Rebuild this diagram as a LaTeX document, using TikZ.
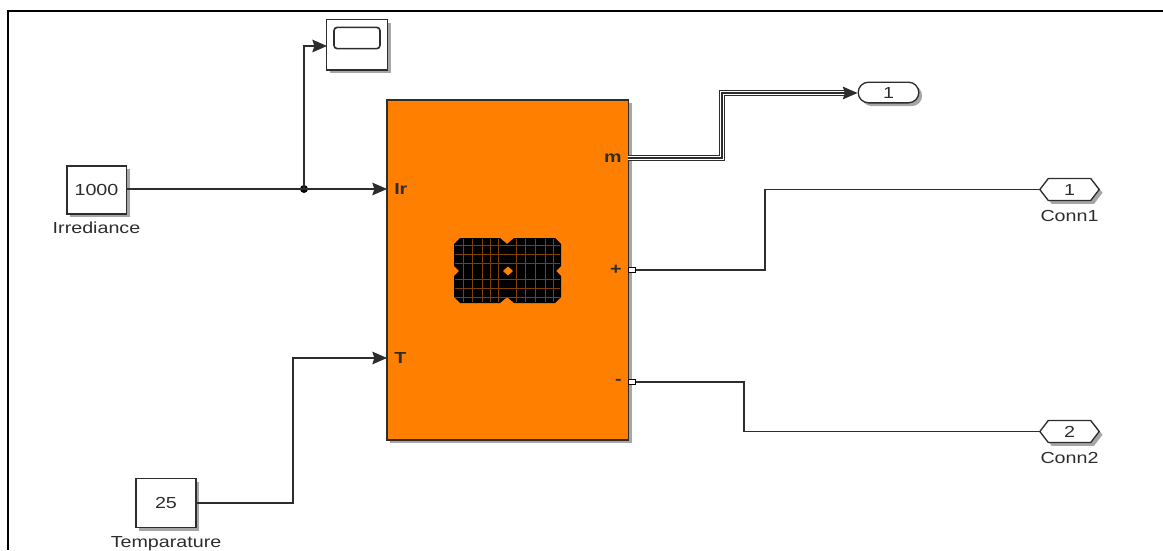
\documentclass[tikz,border=0pt]{standalone}
\usepackage{xcolor}
\usepackage{fontspec}
\setmainfont[FakeStretch=1.23]{Liberation Sans}
\usetikzlibrary{arrows.meta, positioning, shadows, shapes.symbols, shapes.misc}
\definecolor{cblock}{RGB}{255,128,0}
\definecolor{cink}{RGB}{45,45,45}
\begin{document}
\begin{tikzpicture}[
  x=0.75pt, y=-0.75pt,
  font=\fontsize{12pt}{14pt}\selectfont,
  text=cink,
  blockshadow/.style={drop shadow={shadow xshift=2.5pt, shadow yshift=-2.5pt,
    fill=black, opacity=0.35}},
  box/.style={draw=cink, line width=1pt, fill=white, blockshadow, inner sep=0pt},
  portbox/.style={box, signal, signal to=east and west, signal pointer angle=105,
    minimum width=44.5pt, minimum height=16.5pt},
  termbox/.style={draw=black, fill=white, line width=1.2pt, minimum width=5pt,
    minimum height=4pt, inner sep=0pt},
  lab/.style={inner sep=0pt},
  wire/.style={draw=cink, line width=0.9pt},
  >={Stealth[length=11pt, width=9.5pt, inset=1.5pt]},
  node distance=4pt and 0pt,
]
\useasboundingbox (0,0) rectangle (1163,550);
% frame
\coordinate (f1) at (8,550);
\coordinate (f2) at (8,11);
\coordinate (f3) at (1163,11);
\draw[line width=1.9pt, black] (f1) -- (f2) -- (f3);
% blocks
\node[box, minimum width=44.5pt, minimum height=36pt] (irr) at (96.5,190) {1000};
\node[lab, below=5.5pt of irr] (irrlab) {Irrediance};
\node[box, minimum width=45pt, minimum height=36.5pt] (tmp) at (166,503) {25};
\node[lab, below=6pt of tmp] (tmplab) {Temparature};
\node[box, minimum width=45.5pt, minimum height=38pt] (scope) at (357,44.5) {};
\node[draw=cink, line width=1.2pt, rounded corners=2.5pt, minimum width=34.5pt,
  minimum height=16pt, inner sep=0pt] (screen) at (357,38) {};
\node[box, fill=cblock, minimum width=181pt, minimum height=255pt] (pv) at (507.5,270) {};
\node[box, rounded corners=7.8pt, minimum width=45.5pt, minimum height=15.5pt] (out) at (888.5,92.5) {1};
\node[portbox] (conn1) at (1069.5,189.5) {1};
\node[lab, below=6.5pt of conn1] (conn1lab) {Conn1};
\node[portbox] (conn2) at (1069.5,431.5) {2};
\node[lab, below=6.5pt of conn2] (conn2lab) {Conn2};
% port names
\node[lab, anchor=west] (ir) at (394,189) {\bfseries Ir};
\node[lab, anchor=west] (t) at (394,358) {\bfseries T};
\node[lab, anchor=east] (m) at (622,158) {\bfseries m};
\node[lab, anchor=east] (plus) at (622,270) {\bfseries +};
\node[lab, anchor=east] (minus) at (622,382) {\bfseries -};
\node[termbox] (pp) at (632,270) {};
\node[termbox] (pm) at (632,382) {};
% solar panel
\fill[black] (460,238) -- (500,238) -- (507,244) -- (514,238) -- (555,238) -- (561,244)
  -- (561,266) -- (556,271) -- (561,276) -- (561,297) -- (555,303) -- (514,303)
  -- (507,297) -- (500,303) -- (460,303) -- (454,297) -- (454,276) -- (459,271)
  -- (454,266) -- (454,244) -- cycle;
\foreach \gx in {463,472,482,490,498,516,525,535,545,553}
  \draw[cblock!50!black, line width=0.7pt] (\gx,239) -- (\gx,302);
\foreach \gy in {245,254,263,279,288,297}
  \draw[cblock!50!black, line width=0.7pt] (455,\gy) -- (560,\gy);
\fill[cblock] (508,266.5) -- (513,271) -- (508,275.5) -- (503,271) -- cycle;
% connectors
\coordinate (tap) at (304,189);
\coordinate (inir) at (387,189);
\coordinate (int) at (387,358);
\coordinate (inscope) at (327,46);
\coordinate (outm) at (628,158);
\fill[black] (tap) circle (3pt);
\draw[wire, ->] (irr.east |- tap) -- (inir);
\draw[wire, ->] (tap) |- (inscope);
\draw[wire, ->] (tmp.east) -- (293,503) |- (int);
\draw[wire] (pp.east) -- (765,270) |- (conn1.west);
\draw[wire] (pm.east) -- (744,382) |- (conn2.west);
\draw[cink, line width=4.6pt] (outm) -- (722,158) -- (722,93) -- (846,93);
\draw[white, line width=3pt] (outm) -- (722,158) -- (722,93) -- (846,93);
\draw[cink, line width=1pt] (outm) -- (722,158) -- (722,93) -- (846,93);
\draw[wire, ->] (843,93) -- (out.west |- 843,93);
\end{tikzpicture}
\end{document}
